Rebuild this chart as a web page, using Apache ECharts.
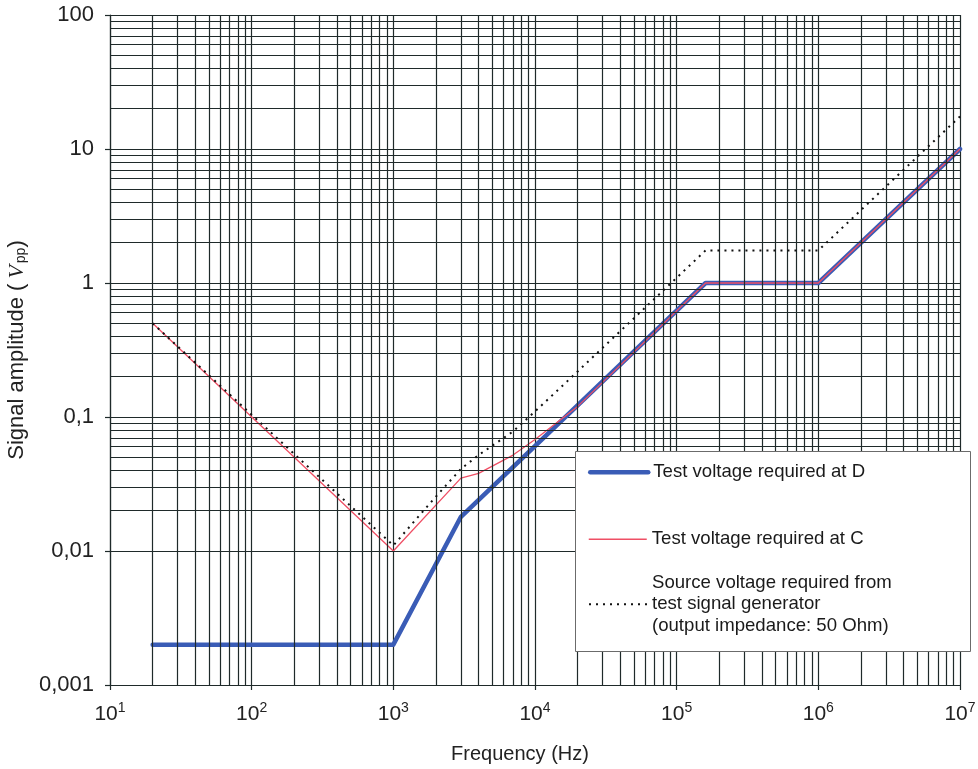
<!DOCTYPE html>
<html>
<head>
<meta charset="utf-8">
<script src="https://cdn.jsdelivr.net/npm/echarts@6/dist/echarts.min.js"></script>
<style>
  html, body { margin: 0; padding: 0; background: #ffffff; overflow: hidden; }
  #chart { width: 978px; height: 769px; }
</style>
</head>
<body>
<div id="chart"></div>
<script>
// Test voltage required at D (thick blue)
const freqD = [20, 1000, 3000, 160000, 1000000, 10000000];
const ampD  = [0.002, 0.002, 0.018, 1, 1, 10];

// Test voltage required at C (thin red)
const freqC = [20, 1000, 3000, 4000, 7000, 10000, 20000, 160000, 1000000, 10000000];
const ampC  = [0.5, 0.01, 0.035, 0.038, 0.052, 0.068, 0.12, 1, 1, 10];

// Source voltage required from the test signal generator (dotted)
const freqS = [20, 1000, 1900, 3000, 4000, 7000, 10000, 16000, 160000, 1000000, 10000000];
const ampS  = [0.5, 0.011, 0.024, 0.041, 0.052, 0.078, 0.11, 0.175, 1.75, 1.75, 17.5];

// Axis tick labels
const xExponents   = ['1', '2', '3', '4', '5', '6', '7'];
const yTickLabels  = ['0,001', '0,01', '0,1', '1', '10', '100'];

const seriesNames = [
  'Test voltage required at D',
  'Test voltage required at C',
  'Source voltage required from\ntest signal generator\n(output impedance: 50 Ohm)'
];

const FONT = "'Liberation Sans', Arial, Helvetica, sans-serif";
const GRID_COLOR = '#1f2a2a';
const BLUE = '#3a5cb6';
const RED = '#ef4f65';
const DOT = '#111111';

function pairs(xs, ys) { return xs.map((x, i) => [x, ys[i]]); }

// Intermediate log-decade grid lines (2..9 within each decade)
const xMinorLines = [];
for (let e = 1; e <= 6; e++) for (let k = 2; k <= 9; k++) xMinorLines.push({ xAxis: k * Math.pow(10, e) });
const yMinorLines = [];
for (let e = -3; e <= 1; e++) for (let k = 2; k <= 9; k++) yMinorLines.push({ yAxis: +(k * Math.pow(10, e)).toPrecision(3) });

const chart = echarts.init(document.getElementById('chart'), null, { renderer: 'canvas' });

const legendText = { fontFamily: FONT, fontSize: 18.6, color: '#1a1a1a', lineHeight: 21.5 };
function legendFor(name, top, lineWidth) {
  return {
    data: [name], left: 588, top: top, orient: 'vertical', padding: 0,
    itemWidth: 58, itemHeight: 14, textStyle: legendText, selectedMode: false, z: 20,
    itemStyle: { opacity: 0 },
    lineStyle: { width: lineWidth }
  };
}

chart.setOption({
  animation: false,
  backgroundColor: '#ffffff',
  textStyle: { fontFamily: FONT },
  grid: { left: 110, top: 15, right: 18, bottom: 84, containLabel: false, outerBoundsMode: 'none' },
  xAxis: {
    type: 'log', logBase: 10, min: 10, max: 10000000,
    name: 'Frequency (Hz)', nameLocation: 'middle', nameGap: 59,
    nameTextStyle: { fontSize: 20, color: '#222', fontFamily: FONT, padding: [0, 30, 0, 0] },
    axisLine: { show: true, lineStyle: { color: GRID_COLOR, width: 1.2 } },
    axisTick: { show: true, inside: false, length: 5, lineStyle: { color: GRID_COLOR, width: 1.2 } },
    splitLine: { show: true, lineStyle: { color: GRID_COLOR, width: 1.2 } },
    axisLabel: {
      margin: 16,
      formatter: (v, i) => '{b|10}{s|' + xExponents[i] + '}',
      rich: {
        b: { fontSize: 21, color: '#222', fontFamily: FONT, lineHeight: 26 },
        s: { fontSize: 14, color: '#222', fontFamily: FONT, verticalAlign: 'top', lineHeight: 16 }
      }
    }
  },
  yAxis: {
    type: 'log', logBase: 10, min: 0.001, max: 100,
    name: '{a|Signal amplitude (}{i|V}{sub|pp}{a|)}', nameLocation: 'middle', nameGap: 74,
    nameTextStyle: {
      rich: {
        a: { fontSize: 22, color: '#222', fontFamily: FONT },
        i: { fontSize: 22, color: '#222', fontFamily: "'Liberation Serif', 'Times New Roman', serif", fontStyle: 'italic', padding: [0, 2, 0, 5] },
        sub: { fontSize: 14, color: '#222', fontFamily: FONT, verticalAlign: 'bottom', padding: [7, 0, 0, 0] }
      }
    },
    axisLine: { show: true, lineStyle: { color: GRID_COLOR, width: 1.2 } },
    axisTick: { show: true, inside: false, length: 5, lineStyle: { color: GRID_COLOR, width: 1.2 } },
    splitLine: { show: true, lineStyle: { color: GRID_COLOR, width: 1.2 } },
    axisLabel: {
      margin: 16, fontSize: 22, color: '#222', fontFamily: FONT,
      formatter: (v, i) => yTickLabels[i]
    }
  },
  graphic: [{
    type: 'rect', z: 10,
    shape: { x: 575.5, y: 451.5, width: 395, height: 200 },
    style: { fill: '#ffffff', stroke: '#6b6b6b', lineWidth: 1 }
  }],
  legend: [
    legendFor(seriesNames[0], 461.5, 4.5),
    legendFor(seriesNames[1], 528.5, 1.5),
    legendFor(seriesNames[2], 572, 2)
  ],
  series: [
    {
      name: 'grid', type: 'line', data: [], silent: true, z: 1,
      markLine: {
        silent: true, symbol: ['none', 'none'], animation: false,
        label: { show: false },
        lineStyle: { type: 'solid', color: GRID_COLOR, width: 1.2 },
        emphasis: { disabled: true },
        data: xMinorLines.concat(yMinorLines)
      }
    },
    {
      name: seriesNames[0], type: 'line', data: pairs(freqD, ampD),
      symbol: 'none', z: 3,
      lineStyle: { color: BLUE, width: 4.5, cap: 'round', join: 'round' },
      itemStyle: { color: BLUE }
    },
    {
      name: seriesNames[1], type: 'line', data: pairs(freqC, ampC),
      symbol: 'none', z: 4,
      lineStyle: { color: RED, width: 1.3 },
      itemStyle: { color: RED }
    },
    {
      name: seriesNames[2], type: 'line', data: pairs(freqS, ampS),
      symbol: 'none', z: 5,
      lineStyle: { color: DOT, width: 2, type: [2, 5] },
      itemStyle: { color: DOT }
    }
  ]
});
</script>
</body>
</html>
